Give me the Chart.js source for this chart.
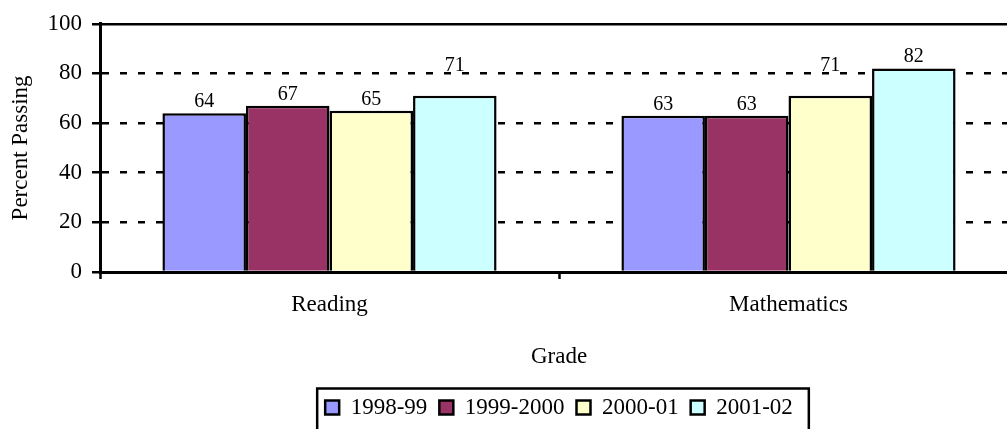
<!DOCTYPE html>
<html>
<head>
<meta charset="utf-8">
<script src="https://cdn.jsdelivr.net/npm/chart.js@4"></script>
<style>
  html, body { margin: 0; padding: 0; background: #fff; overflow: hidden; }
  #wrap { width: 1118px; height: 429px; position: relative; }
</style>
</head>
<body>
<div id="wrap"><canvas id="myChart"></canvas></div>
<script>
var myChart;

// data
const categories = ['Reading', 'Mathematics'];
const seriesNames = ['1998-99', '1999-2000', '2000-01', '2001-02'];
const values1998 = [64, 63];
const values1999 = [67, 63];
const values2000 = [65, 71];
const values2001 = [71, 82];
const yTicks = [0, 20, 40, 60, 80, 100];

const seriesColors = ['#9999FF', '#993366', '#FFFFCC', '#CCFFFF'];
const fontFamily = '"Liberation Serif", "Times New Roman", serif';

Chart.defaults.color = '#000';
Chart.defaults.font.family = fontFamily;

// value labels on top of bars, lifted over a gridline when it is too close
const valueLabels = {
  id: 'valueLabels',
  afterDatasetsDraw: function (chart) {
    const ctx = chart.ctx;
    const yScale = chart.scales.y;
    ctx.save();
    ctx.font = '20px ' + fontFamily;
    ctx.fillStyle = '#000';
    ctx.textAlign = 'center';
    ctx.textBaseline = 'alphabetic';
    chart.data.datasets.forEach(function (ds, di) {
      chart.getDatasetMeta(di).data.forEach(function (bar, i) {
        const v = ds.data[i];
        let y = bar.y - 6;
        const next = yTicks.find(function (t) { return t > v; });
        if (next !== undefined && next - v < 10) {
          y = yScale.getPixelForValue(next) - 2;
        }
        ctx.fillText(String(v), bar.x, y);
      });
    });
    ctx.restore();
  }
};

// frame around the legend
const legendFrame = {
  id: 'legendFrame',
  afterDraw: function (chart) {
    const hb = chart.legend.legendHitBoxes;
    if (!hb || !hb.length) return;
    const first = hb[0];
    const last = hb[hb.length - 1];
    const cy = first.top + first.height / 2;
    const ctx = chart.ctx;
    ctx.save();
    ctx.strokeStyle = '#000';
    ctx.lineWidth = 2.5;
    ctx.strokeRect(first.left - 8, cy - 19, (last.left + last.width + 16) - (first.left - 8), 60);
    ctx.restore();
  }
};

function CreateChart() {
  const Config = {
    type: 'bar',
    data: {
      labels: categories,
      datasets: [values1998, values1999, values2000, values2001].map(function (vals, i) {
        return {
          label: seriesNames[i],
          data: vals,
          backgroundColor: seriesColors[i],
          borderColor: '#000',
          borderWidth: 2.5,
          categoryPercentage: 0.728,
          barPercentage: 1
        };
      })
    },
    plugins: [valueLabels, legendFrame],
    options: {
      responsive: true,
      maintainAspectRatio: false,
      animation: false,
      layout: {
        padding: { left: 0, right: 100, top: 22, bottom: 0 }
      },
      scales: {
        x: {
          offset: true,
          afterFit: function (s) { s.height = 112; },
          grid: {
            drawOnChartArea: false,
            drawTicks: true,
            tickLength: 7,
            tickColor: '#000',
            tickWidth: 2.5
          },
          border: { color: '#000', width: 3 },
          ticks: {
            padding: 12,
            font: { size: 23 }
          },
          title: {
            display: true,
            text: 'Grade',
            font: { size: 23 },
            padding: { top: 0, bottom: 13 }
          }
        },
        y: {
          min: 0,
          max: 100,
          afterFit: function (s) { s.width = 100; },
          afterBuildTicks: function (s) {
            s.ticks = yTicks.map(function (v) { return { value: v }; });
          },
          grid: {
            color: '#000',
            lineWidth: 2.5,
            drawTicks: true,
            tickLength: 8,
            tickColor: '#000',
            tickWidth: 2.5
          },
          border: {
            color: '#000',
            width: 3,
            dash: function (ctx) {
              return ctx.tick && ctx.tick.value === 100 ? [] : [7, 11];
            }
          },
          ticks: {
            padding: 10,
            font: { size: 23 }
          },
          title: {
            display: true,
            text: 'Percent Passing',
            font: { size: 23 },
            padding: { top: 7, bottom: 0 }
          }
        }
      },
      plugins: {
        legend: {
          display: true,
          position: 'bottom',
          fullSize: false,
          labels: {
            boxWidth: 14,
            boxHeight: 14,
            padding: 12,
            font: { size: 23 },
            color: '#000'
          }
        },
        tooltip: { enabled: false }
      }
    }
  };

  myChart = new Chart(document.getElementById('myChart'), Config);
}

CreateChart();
</script>
</body>
</html>
